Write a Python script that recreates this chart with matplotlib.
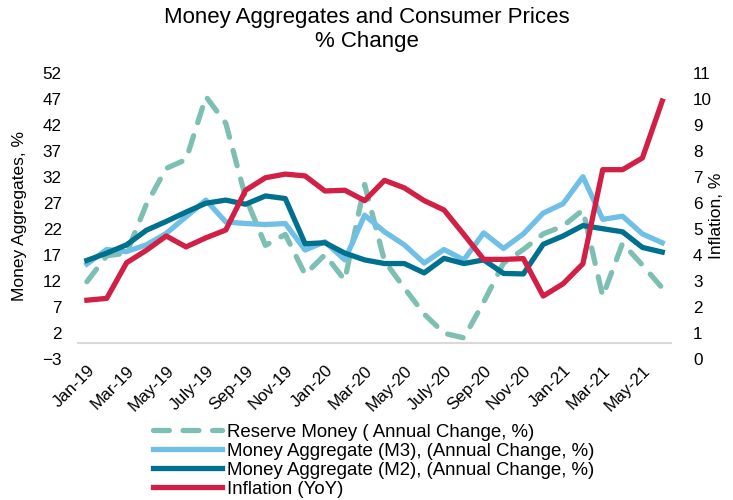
import matplotlib.pyplot as plt

plt.rcParams['font.family'] = ['Liberation Sans', 'DejaVu Sans']

# monthly data, Jan-19 .. Jun-21
months = ['Jan-19', 'Feb-19', 'Mar-19', 'Apr-19', 'May-19', 'Jun-19',
          'July-19', 'Aug-19', 'Sep-19', 'Oct-19', 'Nov-19', 'Dec-19',
          'Jan-20', 'Feb-20', 'Mar-20', 'Apr-20', 'May-20', 'Jun-20',
          'July-20', 'Aug-20', 'Sep-20', 'Oct-20', 'Nov-20', 'Dec-20',
          'Jan-21', 'Feb-21', 'Mar-21', 'Apr-21', 'May-21', 'Jun-21']

reserve_money = [11.8, 16.8, 17.3, 26.7, 33.6, 35.3, 47.4, 42.3, 28.0, 18.8,
                 20.9, 13.2, 17.0, 12.1, 30.5, 15.8, 10.6, 5.6, 1.9, 1.0,
                 7.9, 15.4, 18.0, 21.0, 22.5, 25.6, 9.0, 19.2, 15.0, 10.6]

m3 = [15.2, 18.0, 17.6, 18.9, 21.1, 24.3, 27.5, 23.3, 23.0, 22.8,
      23.0, 17.9, 19.5, 16.0, 24.6, 21.4, 18.9, 15.4, 18.0, 16.0,
      21.2, 18.2, 21.0, 25.0, 26.8, 32.0, 23.8, 24.4, 21.0, 19.3]

m2 = [15.9, 17.3, 18.9, 21.7, 23.4, 25.2, 26.9, 27.5, 26.7, 28.3,
      27.8, 19.1, 19.3, 17.3, 16.0, 15.3, 15.3, 13.5, 16.3, 15.3,
      16.0, 13.4, 13.3, 19.0, 20.6, 22.6, 22.0, 21.4, 18.4, 17.5]

inflation = [2.25, 2.32, 3.69, 4.17, 4.72, 4.30, 4.65, 4.95, 6.48, 6.96,
             7.10, 7.03, 6.45, 6.48, 6.08, 6.86, 6.57, 6.08, 5.72, 4.78,
             3.82, 3.82, 3.85, 2.41, 2.88, 3.65, 7.27, 7.27, 7.72, 9.91]

labels = ['Reserve Money ( Annual Change, %)',
          'Money Aggregate (M3), (Annual Change, %)',
          'Money Aggregate (M2), (Annual Change, %)',
          'Inflation (YoY)']

x = list(range(len(months)))
lw = 3.8

fig = plt.figure(figsize=(7.33, 5.0), dpi=100)
ax = fig.add_axes([0.105, 0.2826, 0.812, 0.572])
ax2 = ax.twinx()

ax.axhline(0, color='#d9d9d9', lw=1.5, zorder=0)
h1, = ax.plot(x, reserve_money, color='#7dbfb3', lw=lw, dashes=(3, 2.6),
              dash_capstyle='round', solid_joinstyle='round')
h2, = ax.plot(x, m3, color='#70bfe6', lw=lw, solid_joinstyle='round')
h3, = ax.plot(x, m2, color='#00708f', lw=lw, solid_joinstyle='round')
h4, = ax2.plot(x, inflation, color='#d21f45', lw=lw, solid_joinstyle='round')

ax.set_xlim(-0.5, len(months) - 0.5)
ax.set_ylim(-3, 52)
ax.set_yticks(range(-3, 53, 5))
ax2.set_ylim(0, 11)
ax2.set_yticks(range(0, 12))

ax.set_xticks(x[::2])
ax.set_xticklabels(months[::2], rotation=45, ha='right', va='top',
                   rotation_mode='anchor', fontsize=13.3)

for a in (ax, ax2):
    for s in a.spines.values():
        s.set_visible(False)
    a.tick_params(length=0, labelsize=12.3, colors='black')
ax.tick_params(axis='x', pad=3)
ax.tick_params(axis='y', pad=11)
ax2.tick_params(axis='y', pad=15)

ax.set_ylabel('Money Aggregates, %', fontsize=12.5, va='center',
              ha='center', rotation_mode='anchor')
ax.yaxis.set_label_coords(-0.096, 0.5)
ax2.set_ylabel('Inflation, %', fontsize=12.5, rotation=90, va='center',
               ha='center', rotation_mode='anchor')
ax2.yaxis.set_label_coords(1.075, 0.5)

fig.text(0.5, 0.985, 'Money Aggregates and Consumer Prices\n% Change',
         ha='center', va='top', fontsize=16, linespacing=1.15)

fig.legend([h1, h2, h3, h4], labels, loc='upper center',
           bbox_to_anchor=(0.51, 0.171), frameon=False, fontsize=13.4,
           handlelength=3.7, labelspacing=0.1, handletextpad=0.27,
           borderpad=0)

fig.savefig('out.png', dpi=100)
